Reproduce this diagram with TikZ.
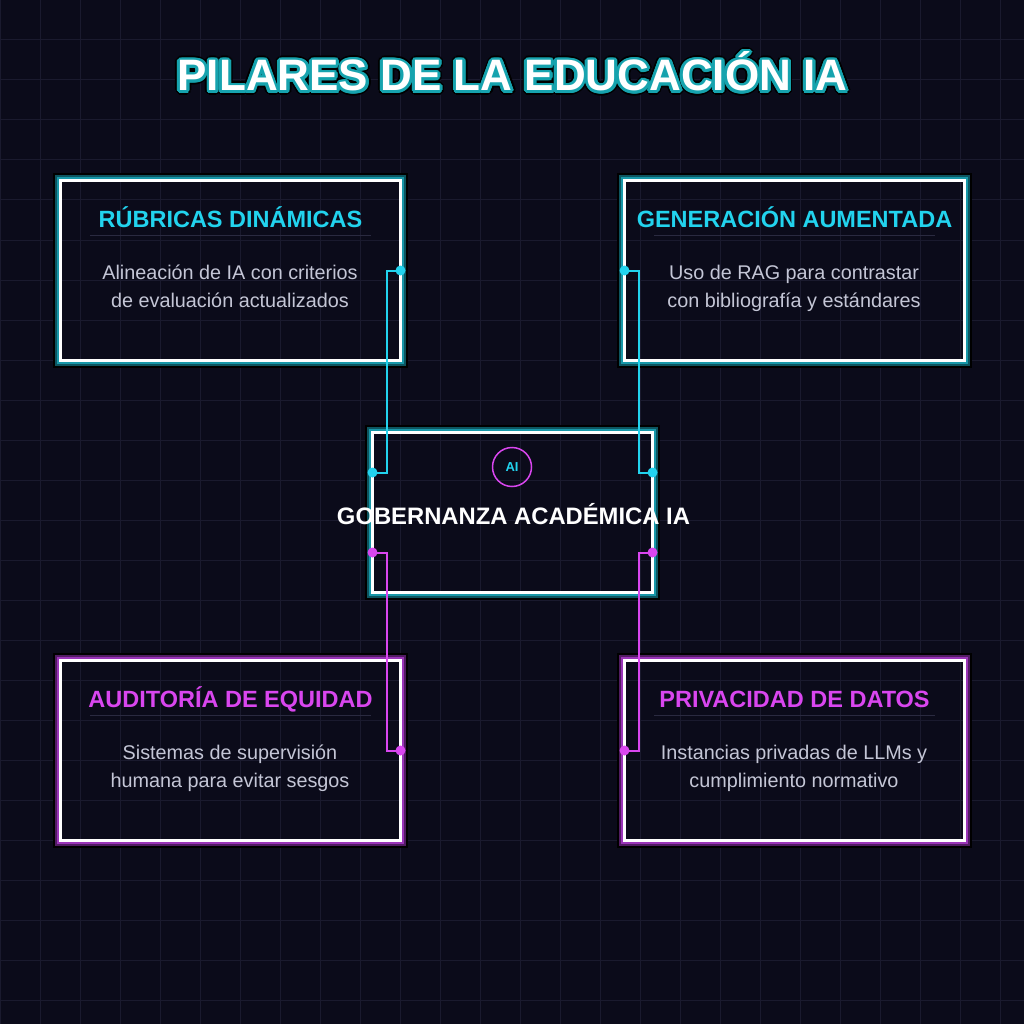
\documentclass[tikz,border=0pt]{standalone}
\usepackage{fontspec}
\setmainfont{Liberation Sans}
\usetikzlibrary{calc}
\definecolor{bg}{HTML}{0B0B1A}
\definecolor{gridc}{HTML}{1A1A2E}
\definecolor{cy}{HTML}{22D3EE}
\definecolor{mg}{HTML}{D946EF}
\definecolor{tealA}{HTML}{1797A8}
\definecolor{tealB}{HTML}{0D5560}
\definecolor{purA}{HTML}{9A34B8}
\definecolor{purB}{HTML}{521C63}
\definecolor{bodyc}{HTML}{C4C6D6}
\definecolor{sepc}{HTML}{2A2A40}
\definecolor{titleteal}{HTML}{16A3AE}
\newcommand\glowrect[3]{%
  \draw[line width=2.2pt,black] ($(#1.north west)+(-6.6,-6.6)$) rectangle ($(#1.south east)+(6.6,6.6)$);
  \draw[line width=2.2pt,#3] ($(#1.north west)+(-4.5,-4.5)$) rectangle ($(#1.south east)+(4.5,4.5)$);
  \draw[line width=2.2pt,#2] ($(#1.north west)+(-2.5,-2.5)$) rectangle ($(#1.south east)+(2.5,2.5)$);}
\begin{document}
\begin{tikzpicture}[x=1pt,y=-1pt,
  card/.style={draw=white, line width=3pt, minimum width=340pt, minimum height=180pt, outer sep=0pt, inner sep=0pt},
  hub/.style={draw=white, line width=3pt, minimum width=280pt, minimum height=160pt, outer sep=0pt, inner sep=0pt},
  ttl/.style={font=\bfseries\fontsize{23.5}{28}\selectfont, anchor=base, inner sep=0pt},
  bodyt/.style={font=\fontsize{19.8}{28}\selectfont, text=bodyc, anchor=base, inner sep=0pt},
  sepline/.style={sepc, line width=1pt},
  titlef/.style={font=\bfseries\fontsize{44}{50}\selectfont, anchor=base, inner sep=0pt},
  link/.style={line width=2pt},
  dot/.style={circle, inner sep=0pt, minimum size=10pt}
]
\useasboundingbox (0,0) rectangle (1024,1024);
\fill[bg] (0,0) rectangle (1024,1024);
\foreach \i in {0,40,...,1000} {
  \draw[gridc,line width=1pt] (\i,0) -- (\i,1024);
  \draw[gridc,line width=1pt] (0,\i) -- (1024,\i);
}

% title (outline made of offset copies)
\foreach \a in {0,20,...,340}
  \node[titlef, text=black] at ($(512.5,91)+(\a:4.6)$) {PILARES DE LA EDUCACIÓN IA};
\foreach \a in {0,20,...,340}
  \node[titlef, text=titleteal] at ($(512.5,91)+(\a:2.9)$) {PILARES DE LA EDUCACIÓN IA};
\node[titlef, text=white] (title) at (512.5,91) {PILARES DE LA EDUCACIÓN IA};

% cards
\node[card] (tl) at (230.5,270.5) {};
\node[card] (tr) at (794.5,270.5) {};
\node[card] (bl) at (230.5,750.5) {};
\node[card] (br) at (794.5,750.5) {};
\node[hub] (c) at (512.5,512.5) {};
\glowrect{tl}{tealA}{tealB}
\glowrect{tr}{tealA}{tealB}
\glowrect{c}{tealA}{tealB}
\glowrect{bl}{purA}{purB}
\glowrect{br}{purA}{purB}

% card texts
\node[ttl, text=cy] (tlt) at (230.5,227) {RÚBRICAS DINÁMICAS};
\draw[sepline] (90,235.5) -- (371,235.5);
\node[bodyt] (tlb1) at (230,279) {Alineación de IA con criterios};
\node[bodyt] (tlb2) at (230,307) {de evaluación actualizados};

\node[ttl, text=cy] (trt) at (794.5,227) {GENERACIÓN AUMENTADA};
\draw[sepline] (654,235.5) -- (935,235.5);
\node[bodyt] (trb1) at (794,279) {Uso de RAG para contrastar};
\node[bodyt] (trb2) at (794,307) {con bibliografía y estándares};

\node[ttl, text=mg] (blt) at (230.5,707) {AUDITORÍA DE EQUIDAD};
\draw[sepline] (90,715.5) -- (371,715.5);
\node[bodyt] (blb1) at (230,759) {Sistemas de supervisión};
\node[bodyt] (blb2) at (230,787) {humana para evitar sesgos};

\node[ttl, text=mg] (brt) at (794.5,707) {PRIVACIDAD DE DATOS};
\draw[sepline] (654,715.5) -- (935,715.5);
\node[bodyt] (brb1) at (794,759) {Instancias privadas de LLMs y};
\node[bodyt] (brb2) at (794,787) {cumplimiento normativo};

% hub content
\node[draw=mg, circle, line width=1.5pt, minimum size=39pt, inner sep=0pt, text=cy,
      font=\bfseries\fontsize{13}{15}\selectfont] (ai) at (512,467) {AI};
\node[font=\bfseries\fontsize{23.8}{28}\selectfont, text=white, anchor=base, inner sep=0pt] (ct) at (513.5,524) {GOBERNANZA ACADÉMICA IA};

% connector anchors on hub
\coordinate (cwu) at ($(c.west)+(0,-40)$);
\coordinate (cwd) at ($(c.west)+(0,40)$);
\coordinate (ceu) at ($(c.east)+(0,-40)$);
\coordinate (ced) at ($(c.east)+(0,40)$);

\draw[link, cy] (tl.east) -- ++(-14,0) |- (cwu);
\draw[link, cy] (tr.west) -- ++(14,0) |- (ceu);
\draw[link, mg] (bl.east) -- ++(-14,0) |- (cwd);
\draw[link, mg] (br.west) -- ++(14,0) |- (ced);

\node[dot, fill=cy] (d1) at (tl.east) {};
\node[dot, fill=cy] (d2) at (cwu) {};
\node[dot, fill=cy] (d3) at (tr.west) {};
\node[dot, fill=cy] (d4) at (ceu) {};
\node[dot, fill=mg] (d5) at (bl.east) {};
\node[dot, fill=mg] (d6) at (cwd) {};
\node[dot, fill=mg] (d7) at (br.west) {};
\node[dot, fill=mg] (d8) at (ced) {};
\end{tikzpicture}
\end{document}
